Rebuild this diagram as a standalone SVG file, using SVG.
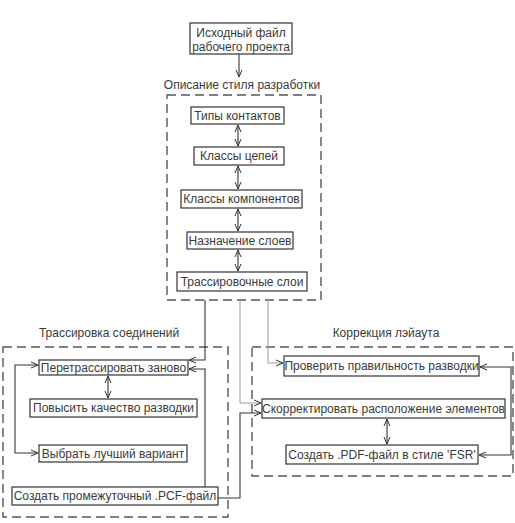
<svg xmlns="http://www.w3.org/2000/svg" width="515" height="523" viewBox="0 0 515 523">
<style>
.box{fill:#fff;stroke:#333;stroke-width:1.2}
.dash{fill:none;stroke:#555;stroke-width:1.4;stroke-dasharray:9,5}
.t{font-family:"Liberation Sans",Arial,sans-serif;font-size:12px;fill:#3a3a3a;text-anchor:middle}
.c{fill:none;stroke:#333;stroke-width:1.1}
.g{fill:none;stroke:#999;stroke-width:1}
</style>
<defs>
<marker id="a" markerUnits="userSpaceOnUse" markerWidth="10" markerHeight="10" refX="7" refY="4" orient="auto-start-reverse">
<path d="M0,1 L7,4 L0,7" fill="none" stroke="#333" stroke-width="1"/>
</marker>
</defs>
<rect width="515" height="523" fill="#fff"/>
<g id="n0">
<rect class="box" x="190" y="23" width="102" height="31"/>
<text class="t" x="241" y="37">Исходный файл</text>
<text class="t" x="241" y="51">рабочего проекта</text>
</g>
<g id="style">
<rect class="dash" x="167" y="95" width="154" height="205"/>
<text class="t" x="242" y="89">Описание стиля разработки</text>
</g>
<g id="n1"><rect class="box" x="191" y="107" width="93" height="17"/><text class="t" x="237.5" y="120">Типы контактов</text></g>
<g id="n2"><rect class="box" x="194" y="147" width="90" height="18"/><text class="t" x="239" y="160">Классы цепей</text></g>
<g id="n3"><rect class="box" x="181" y="190" width="121" height="18"/><text class="t" x="241.5" y="203">Классы компонентов</text></g>
<g id="n4"><rect class="box" x="187" y="232" width="106" height="17"/><text class="t" x="240" y="245">Назначение слоев</text></g>
<g id="n5"><rect class="box" x="177" y="272" width="130" height="19"/><text class="t" x="242" y="286">Трассировочные слои</text></g>
<g id="routing">
<rect class="dash" x="3" y="347" width="225" height="170"/>
<text class="t" x="109" y="337">Трассировка соединений</text>
</g>
<g id="r1"><rect class="box" x="39" y="360" width="149" height="15"/><text class="t" x="113.5" y="372">Перетрассировать заново</text></g>
<g id="r2"><rect class="box" x="30" y="399" width="167" height="18"/><text class="t" x="113.5" y="412">Повысить качество разводки</text></g>
<g id="r3"><rect class="box" x="39" y="445" width="148" height="17"/><text class="t" x="113" y="458">Выбрать лучший вариант</text></g>
<g id="r4"><rect class="box" x="12" y="487" width="206" height="18"/><text class="t" x="115" y="500">Создать промежуточный .PCF-файл</text></g>
<g id="layout">
<rect class="dash" x="252" y="347" width="261" height="129"/>
<text class="t" x="386" y="337">Коррекция лэйаута</text>
</g>
<g id="l1"><rect class="box" x="284" y="356" width="195" height="20"/><text class="t" x="381.5" y="370">Проверить правильность разводки</text></g>
<g id="l2"><rect class="box" x="262" y="399" width="243" height="19"/><text class="t" x="383.5" y="413">Скорректировать расположение элементов</text></g>
<g id="l3"><rect class="box" x="286" y="445" width="192" height="19"/><text class="t" x="382" y="459">Создать .PDF-файл в стиле 'FSR'</text></g>
<g id="connectors">
<path class="c" d="M239,54 L239,77" marker-end="url(#a)"/>
<path class="c" d="M238,125 L238,146" marker-start="url(#a)" marker-end="url(#a)"/>
<path class="c" d="M238,166 L238,189" marker-start="url(#a)" marker-end="url(#a)"/>
<path class="c" d="M238,209 L238,231" marker-start="url(#a)" marker-end="url(#a)"/>
<path class="c" d="M238,250 L238,271" marker-start="url(#a)" marker-end="url(#a)"/>
<path class="c" d="M205,300 L205,360 L189,360" marker-end="url(#a)"/>
<path class="c" d="M205,487 L205,369 L189,369" marker-end="url(#a)"/>
<path class="g" d="M268,300 L268,363 L283,363" marker-end="url(#a)"/>
<path class="g" d="M240,300 L240,403 L261,403" marker-end="url(#a)"/>
<path class="c" d="M218,498 L240,498 L240,413 L261,413" marker-end="url(#a)"/>
<path class="c" d="M38,365 L15,365 L15,453 L38,453" marker-start="url(#a)" marker-end="url(#a)"/>
<path class="c" d="M108,376 L108,398" marker-start="url(#a)" marker-end="url(#a)"/>
<path class="c" d="M480,367 L511,367 L511,455 L479,455" marker-start="url(#a)" marker-end="url(#a)"/>
<path class="c" d="M387,419 L387,444" marker-start="url(#a)" marker-end="url(#a)"/>
</g>
</svg>
